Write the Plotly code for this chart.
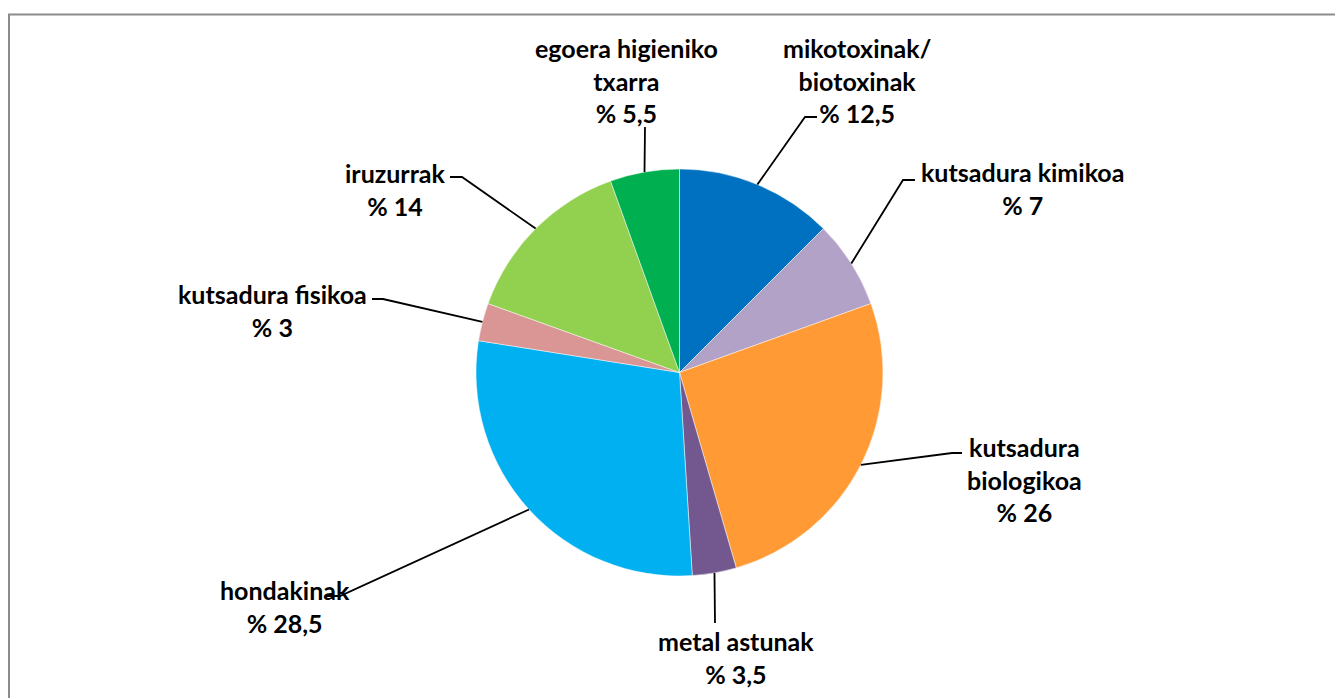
import math
import plotly.graph_objects as go

# ---- data ----
categories = ["mikotoxinak/<br>biotoxinak", "kutsadura kimikoa", "kutsadura<br>biologikoa",
              "metal astunak", "hondakinak", "kutsadura fisikoa", "iruzurrak",
              "egoera higieniko<br>txarra"]
values = [12.5, 7, 26, 3.5, 28.5, 3, 14, 5.5]
value_labels = ["% 12,5", "% 7", "% 26", "% 3,5", "% 28,5", "% 3", "% 14", "% 5,5"]
colors = ["#0070C0", "#B3A2C7", "#FF9A35", "#72588F", "#00B0F0", "#D99694", "#92D050", "#00B050"]

# ---- layout (pixel positions) ----
W, H = 1335, 698
CX, CY, R = 679.5, 372.5, 203.5
# label centre (x, y) in pixels
label_pos = [(857, 80), (1022, 188), (1024, 479), (736, 657),
             (285, 606), (272, 310), (395, 189), (626, 80)]
# leader elbow and end points in pixels
elbows = [(805, 117), (903, 180), (952, 453), (715, 623),
          (340, 596), (383, 299), (462, 177), (645, 127)]
ends = [(817, 117), (915, 180), (962, 453), (715, 623),
        (325, 596), (372, 299), (450, 177), (645, 127)]

def px(x):
    return x / W

def py(y):
    return 1 - y / H

fig = go.Figure(go.Pie(
    labels=[c.replace("<br>", " ") for c in categories],
    values=values,
    sort=False,
    direction="clockwise",
    rotation=0,
    marker=dict(colors=colors, line=dict(color="rgba(255,255,255,0.6)", width=0.8)),
    textinfo="none",
    hoverinfo="label+value",
    showlegend=False,
    domain=dict(x=[px(CX - R), px(CX + R)], y=[py(CY + R), py(CY - R)]),
))

total = sum(values)
shapes = []
annotations = []
cum = 0.0
for i, v in enumerate(values):
    theta = 2 * math.pi * (cum + v / 2) / total
    cum += v
    sx = CX + R * math.sin(theta)
    sy = CY - R * math.cos(theta)
    ex, ey = elbows[i]
    tx, ty = ends[i]
    path = f"M {px(sx)} {py(sy)} L {px(ex)} {py(ey)} L {px(tx)} {py(ty)}"
    shapes.append(dict(type="path", xref="paper", yref="paper", path=path,
                       line=dict(color="black", width=1.8)))
    lx, ly = label_pos[i]
    annotations.append(dict(
        x=px(lx), y=py(ly), xref="paper", yref="paper",
        text=categories[i] + "<br>" + value_labels[i],
        showarrow=False, xanchor="center", yanchor="middle", align="center",
        font=dict(family="Lato", size=25, color="black", weight="bold"),
    ))

# chart frame (only top and left edges are visible in the crop)
shapes.append(dict(type="path", xref="paper", yref="paper",
                   path=f"M {px(9)} -0.05 L {px(9)} {py(14.5)} L 1.05 {py(14.5)}",
                   line=dict(color="#8c8c8c", width=2)))

fig.update_layout(
    width=W, height=H,
    margin=dict(l=0, r=0, t=0, b=0),
    paper_bgcolor="white", plot_bgcolor="white",
    shapes=shapes, annotations=annotations,
)

fig.write_html("out.html", config={"displayModeBar": False},
               post_script="document.body.style.margin='0';document.body.style.overflow='hidden';"
                           "document.documentElement.style.overflow='hidden';")
